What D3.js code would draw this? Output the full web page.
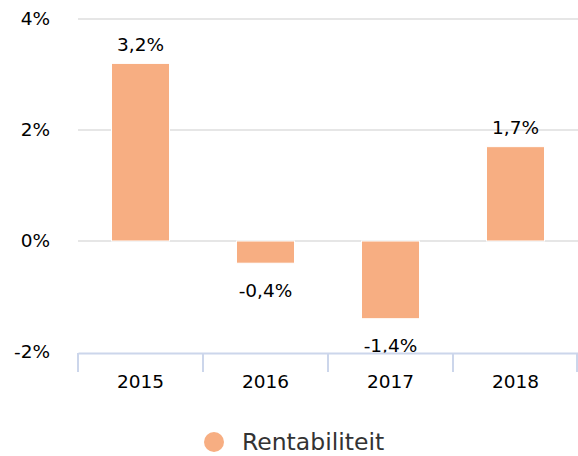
<!DOCTYPE html>
<html>
<head>
<meta charset="utf-8">
<script src="https://cdn.jsdelivr.net/npm/d3@7"></script>
<style>
  body { margin: 0; background: #fff; }
  svg { font-family: "DejaVu Sans", Verdana, sans-serif; }
</style>
</head>
<body>
<svg width="578" height="456"></svg>
<script>
// data
var years = ["2015", "2016", "2017", "2018"];
var rentabiliteit = [3.2, -0.4, -1.4, 1.7];
var yTicks = [-2, 0, 2, 4];
var seriesName = "Rentabiliteit";

var w = 578;
var h = 456;
var barColor = "#f7ae82";
var fs = 18.5;

var svg = d3.select("svg");

var x = d3.scaleBand()
    .domain(years)
    .range([78, 578])
    .padding(0);

var y = d3.scaleLinear()
    .domain([-2, 4])
    .range([352, 19]);

// hyphen minus, comma decimal
var fmt = function(v) { return v.toFixed(1).replace(".", ",") + "%"; };

// gridlines
svg.selectAll("line.grid")
    .data(yTicks.filter(function(d) { return d !== -2; }))
    .enter()
    .append("line")
    .attr("class", "grid")
    .attr("x1", 78)
    .attr("x2", w)
    .attr("y1", function(d) { return y(d); })
    .attr("y2", function(d) { return y(d); })
    .attr("stroke", "#e6e6e6")
    .attr("stroke-width", 2);

// y labels
svg.selectAll("text.ylab")
    .data(yTicks)
    .enter()
    .append("text")
    .attr("class", "ylab")
    .attr("x", 50)
    .attr("y", function(d) { return y(d); })
    .attr("dy", "0.35em")
    .attr("text-anchor", "end")
    .attr("font-size", fs)
    .attr("fill", "#000")
    .text(function(d) { return d + "%"; });

// bars
var bw = x.bandwidth() * 0.464;
svg.selectAll("rect.bar")
    .data(rentabiliteit)
    .enter()
    .append("rect")
    .attr("class", "bar")
    .attr("x", function(d, i) { return x(years[i]) + x.bandwidth() / 2 - bw / 2; })
    .attr("y", function(d) { return y(Math.max(d, 0)); })
    .attr("width", bw)
    .attr("height", function(d) { return Math.abs(y(d) - y(0)); })
    .attr("fill", barColor)
    .attr("stroke", "#fff")
    .attr("stroke-width", 1);

// data labels
svg.selectAll("text.dlab")
    .data(rentabiliteit)
    .enter()
    .append("text")
    .attr("class", "dlab")
    .attr("x", function(d, i) { return x(years[i]) + x.bandwidth() / 2; })
    .attr("y", function(d) { return d >= 0 ? y(d) - 19 : y(d) + 27; })
    .attr("dy", "0.35em")
    .attr("text-anchor", "middle")
    .attr("font-size", fs)
    .attr("fill", "#000")
    .text(function(d) { return fmt(d); });

// x axis
var xAxis = d3.axisBottom(x)
    .tickSize(19)
    .tickSizeOuter(0)
    .tickFormat(function(d) { return d; });

var gx = svg.append("g")
    .attr("transform", "translate(0,353)")
    .call(xAxis);

gx.select(".domain").attr("stroke", "#ccd6eb").attr("stroke-width", 2);
gx.selectAll(".tick line").remove();
gx.selectAll(".tick text")
    .attr("font-size", fs)
    .attr("font-family", "DejaVu Sans, sans-serif")
    .attr("fill", "#000")
    .attr("y", 29)
    .attr("dy", "0.35em");

// tick marks at band edges
var edges = years.map(function(d) { return x(d); }).concat([x.range()[1] - 1]);
svg.selectAll("line.xtick")
    .data(edges)
    .enter()
    .append("line")
    .attr("class", "xtick")
    .attr("x1", function(d) { return d; })
    .attr("x2", function(d) { return d; })
    .attr("y1", 353)
    .attr("y2", 372)
    .attr("stroke", "#ccd6eb")
    .attr("stroke-width", 2);

// legend
var legend = svg.append("g");
legend.append("circle")
    .attr("cx", 214)
    .attr("cy", 442)
    .attr("r", 10)
    .attr("fill", barColor);
legend.append("text")
    .attr("x", 242)
    .attr("y", 442)
    .attr("dy", "0.35em")
    .attr("font-size", 23.5)
    .attr("fill", "#333")
    .text(seriesName);
</script>
</body>
</html>
